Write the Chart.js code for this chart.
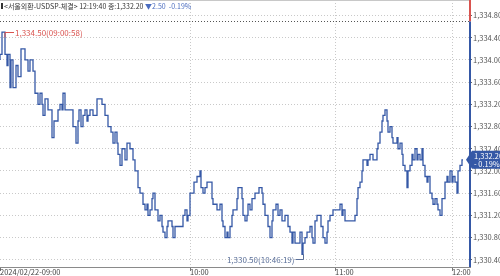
<!DOCTYPE html>
<html>
<head>
<meta charset="utf-8">
<script src="https://cdn.jsdelivr.net/npm/chart.js@4.4.1/dist/chart.umd.min.js"></script>
<style>
  html, body { margin: 0; padding: 0; background: #fff; }
  #wrap { width: 500px; height: 276px; }
</style>
</head>
<body>
<div id="wrap"><canvas id="c" width="500" height="276"></canvas></div>
<script>
// USD/KRW spot ticks, 2024-02-22 session
// seq = position in the tick stream, price = last trade at that point
const seq = [0,2,5,7,8,10,11,13,16,18,21,25,28,30,33,35,38,40,42,43,45,48,52,54,58,60,62,63,65,73,76,78,79,81,83,85,87,88,90,93,97,
  102,105,108,111,113,115,117,118,120,122,125,127,130,133,135,138,140,143,145,147,148,150,152,153,155,158,160,162,163,165,167,168,172,173,175,183,185,187,188,190,
  194,197,200,201,203,205,207,212,213,217,220,222,223,225,227,228,230,232,233,237,238,242,243,245,247,248,250,252,255,259,262,263,265,268,270,272,273,276,278,280,282,285,
  288,290,292,293,295,300,302,303,305,307,310,312,313,315,317,321,323,325,327,328,330,333,340,342,343,345,355,357,358,360,362,363,367,368,370,373,377,378,380,382,
  383,385,387,388,390,392,393,397,398,400,402,403,405,407,408,410,412,413,415,417,418,420,422,423,425,427,428,430,432,433,435,437,438,440,442,445,447,448,450,452,453,455,457,458,460,462,463];
const price = [1334.0,1334.1,1334.5,1334.1,1333.9,1334.1,1333.5,1334.0,1333.5,1333.9,1333.7,1334.2,1334.0,1333.8,1334.0,1333.8,1333.4,1333.2,1333.4,1333.2,1333.0,1333.3,1333.1,1332.6,1332.9,1333.1,1333.2,1333.1,1333.4,1333.1,1332.8,1332.5,1332.9,1333.1,1332.8,1333.0,1333.1,1332.9,1333.0,1333.1,1333.0,
  1333.3,1333.2,1333.0,1332.8,1332.7,1332.5,1332.7,1332.5,1332.3,1332.1,1332.4,1332.2,1332.5,1332.4,1332.2,1332.0,1331.7,1331.6,1331.4,1331.3,1331.4,1331.2,1331.3,1331.5,1331.6,1331.3,1331.1,1331.2,1331.0,1330.9,1330.8,1331.0,1331.1,1331.0,1330.8,1331.0,1331.2,1331.3,1331.1,1331.2,
  1331.6,1331.8,1331.9,1332.0,1331.7,1331.6,1331.7,1331.8,1331.5,1331.4,1331.3,1331.4,1331.1,1331.0,1330.8,1330.9,1330.8,1331.0,1331.2,1331.3,1331.5,1331.7,1331.5,1331.2,1331.1,1331.2,1331.4,1331.3,1331.5,1331.6,1331.7,1331.6,1331.4,1331.2,1331.0,1330.8,1331.1,1331.3,1331.4,1331.2,1331.3,1331.1,
  1331.2,1331.0,1330.9,1330.7,1330.9,1330.7,1330.9,1330.5,1330.7,1330.8,1330.9,1331.0,1330.8,1330.7,1331.1,1331.2,1331.0,1330.8,1330.7,1330.9,1331.1,1331.2,1331.3,1331.4,1331.2,1331.3,1331.1,1331.2,1331.5,1331.7,1331.8,1332.0,1332.2,1332.1,1332.2,1332.3,1332.2,1332.4,1332.5,1332.7,
  1332.9,1333.0,1333.1,1332.9,1332.7,1332.8,1332.6,1332.5,1332.6,1332.4,1332.5,1332.3,1332.1,1332.0,1331.7,1332.0,1332.1,1332.3,1332.2,1332.4,1332.2,1332.3,1332.2,1332.4,1332.1,1331.9,1331.8,1331.9,1331.6,1331.5,1331.4,1331.5,1331.4,1331.3,1331.2,1331.5,1331.8,1331.9,1331.8,1332.0,1331.8,1331.9,1331.8,1331.6,1332.0,1332.1,1332.2];

const timeTickSeq = [0, 190, 335, 452];
const timeTickLabels = ['2024/02/22-09:00', '10:00', '11:00', '12:00'];
const priceTicks = [1330.4, 1330.8, 1331.2, 1331.6, 1332.0, 1332.4, 1332.8, 1333.2, 1333.6, 1334.0, 1334.4, 1334.8];

const prevClose = 1334.70;
const lastPrice = 1332.20;
const change = -2.50;
const changePct = -0.19;
const hi = { seq: 5, price: 1334.50, time: '09:00:58' };
const lo = { seq: 303, price: 1330.50, time: '10:46:19' };
const titleText = '<서울외환-USDSP-체결> 12:19:40 종:1,332.20 ';

const FONT = "'Liberation Sans Narrow', 'Noto Sans CJK KR', sans-serif";
const BLUE = '#3558a6';
const GRID = '#c9c9c9';
const fmt = v => v.toLocaleString('en-US', { minimumFractionDigits: 2, maximumFractionDigits: 2 });

const overlay = {
  id: 'overlay',
  afterDraw(chart) {
    const { ctx, chartArea: a, scales: { x, y } } = chart;
    ctx.save();
    // top border + x axis line
    ctx.strokeStyle = '#c8c8c8'; ctx.lineWidth = 1;
    ctx.beginPath(); ctx.moveTo(a.left, 0.5); ctx.lineTo(a.right, 0.5); ctx.stroke();
    ctx.strokeStyle = '#8a8a8a';
    ctx.beginPath(); ctx.moveTo(a.left, a.bottom + 0.5); ctx.lineTo(a.right + 2, a.bottom + 0.5); ctx.stroke();

    // previous close dotted line
    const py = Math.round(y.getPixelForValue(prevClose)) + 0.5;
    ctx.strokeStyle = '#555'; ctx.setLineDash([1, 2]);
    ctx.beginPath(); ctx.moveTo(a.left, py); ctx.lineTo(a.right, py); ctx.stroke();
    ctx.setLineDash([]);

    // right axis: red above prev close, blue below
    const ax = a.right + 1;
    ctx.lineWidth = 2;
    ctx.strokeStyle = '#d9534f';
    ctx.beginPath(); ctx.moveTo(ax, 0); ctx.lineTo(ax, py); ctx.stroke();
    ctx.strokeStyle = BLUE;
    ctx.beginPath(); ctx.moveTo(ax, py); ctx.lineTo(ax, a.bottom); ctx.stroke();

    // high marker
    ctx.lineWidth = 1;
    const hx = x.getPixelForValue(hi.seq), hy = Math.round(y.getPixelForValue(hi.price)) + 0.5;
    ctx.strokeStyle = '#d9534f';
    ctx.beginPath(); ctx.moveTo(hx, hy + 5); ctx.lineTo(hx, hy); ctx.lineTo(hx + 9, hy); ctx.stroke();
    ctx.fillStyle = '#d9534f'; ctx.font = '8px ' + FONT;
    ctx.textAlign = 'left'; ctx.textBaseline = 'middle';
    ctx.fillText(fmt(hi.price) + '(' + hi.time + ')', hx + 10, hy);

    // low marker
    const lx = Math.round(x.getPixelForValue(lo.seq)) + 0.5, ly = y.getPixelForValue(lo.price);
    const lby = Math.round(ly) + 5.5;
    ctx.strokeStyle = '#5a6f99';
    ctx.beginPath(); ctx.moveTo(lx, ly); ctx.lineTo(lx, lby); ctx.lineTo(lx - 8, lby); ctx.stroke();
    ctx.fillStyle = '#5a6f99'; ctx.textAlign = 'right';
    ctx.fillText(fmt(lo.price) + '(' + lo.time + ')', lx - 9, lby);

    // last price tag
    const ty = y.getPixelForValue(lastPrice);
    ctx.fillStyle = BLUE;
    ctx.beginPath();
    ctx.moveTo(a.right - 3, ty);
    ctx.lineTo(a.right + 3, ty - 9);
    ctx.lineTo(500, ty - 9);
    ctx.lineTo(500, ty + 9);
    ctx.lineTo(a.right + 3, ty + 9);
    ctx.closePath(); ctx.fill();
    ctx.fillStyle = '#fff'; ctx.font = '7.5px ' + FONT; ctx.textAlign = 'left';
    ctx.fillText(fmt(lastPrice), a.right + 5, ty - 4);
    ctx.fillText((changePct < 0 ? '- ' : '+ ') + Math.abs(changePct).toFixed(2) + '%', a.right + 5, ty + 4);

    // header
    ctx.fillStyle = '#333';
    ctx.fillRect(1, 3, 2, 6);
    ctx.font = '7px ' + FONT; ctx.textBaseline = 'middle';
    ctx.fillText(titleText, 4, 6);
    const w = ctx.measureText(titleText).width;
    ctx.fillStyle = '#4a6cc0';
    ctx.fillText((change < 0 ? '▼' : '▲') + Math.abs(change).toFixed(2) + '  ' + changePct.toFixed(2) + '%', 4 + w, 6);
    ctx.restore();
  }
};

new Chart(document.getElementById('c'), {
  type: 'line',
  data: {
    datasets: [{
      data: seq.map((s, i) => ({ x: s, y: price[i] })),
      borderColor: BLUE,
      borderWidth: 1.3,
      pointRadius: 0,
      stepped: 'after',
      fill: false
    }]
  },
  options: {
    responsive: false,
    animation: false,
    layout: { padding: 0 },
    plugins: { legend: { display: false }, tooltip: { enabled: false } },
    scales: {
      x: {
        type: 'linear', min: 0, max: 469,
        afterFit: s => { s.height = 9; s.paddingLeft = 0; s.paddingRight = 0; },
        afterBuildTicks: s => { s.ticks = timeTickSeq.map(v => ({ value: v })); },
        ticks: {
          align: 'start', padding: -3, maxRotation: 0, autoSkip: false,
          color: '#444', font: { family: FONT, size: 7.5 },
          callback: v => timeTickLabels[timeTickSeq.indexOf(v)]
        },
        grid: {
          color: c => c.index === 0 ? 'rgba(0,0,0,0)' : GRID,
          tickBorderDash: [], tickColor: '#777', tickLength: 4
        },
        border: { display: false, dash: [1, 2] }
      },
      y: {
        position: 'right', min: 1330.27, max: 1335.08,
        afterFit: s => { s.width = 31; s.paddingTop = 0; s.paddingBottom = 0; },
        afterBuildTicks: s => { s.ticks = priceTicks.map(v => ({ value: v })); },
        ticks: { padding: 1, color: '#555', font: { family: FONT, size: 7.5 }, callback: v => fmt(v) },
        grid: { color: GRID, tickBorderDash: [], tickColor: '#666', tickLength: 3 },
        border: { display: false, dash: [1, 2] }
      }
    }
  },
  plugins: [overlay]
});
</script>
</body>
</html>
